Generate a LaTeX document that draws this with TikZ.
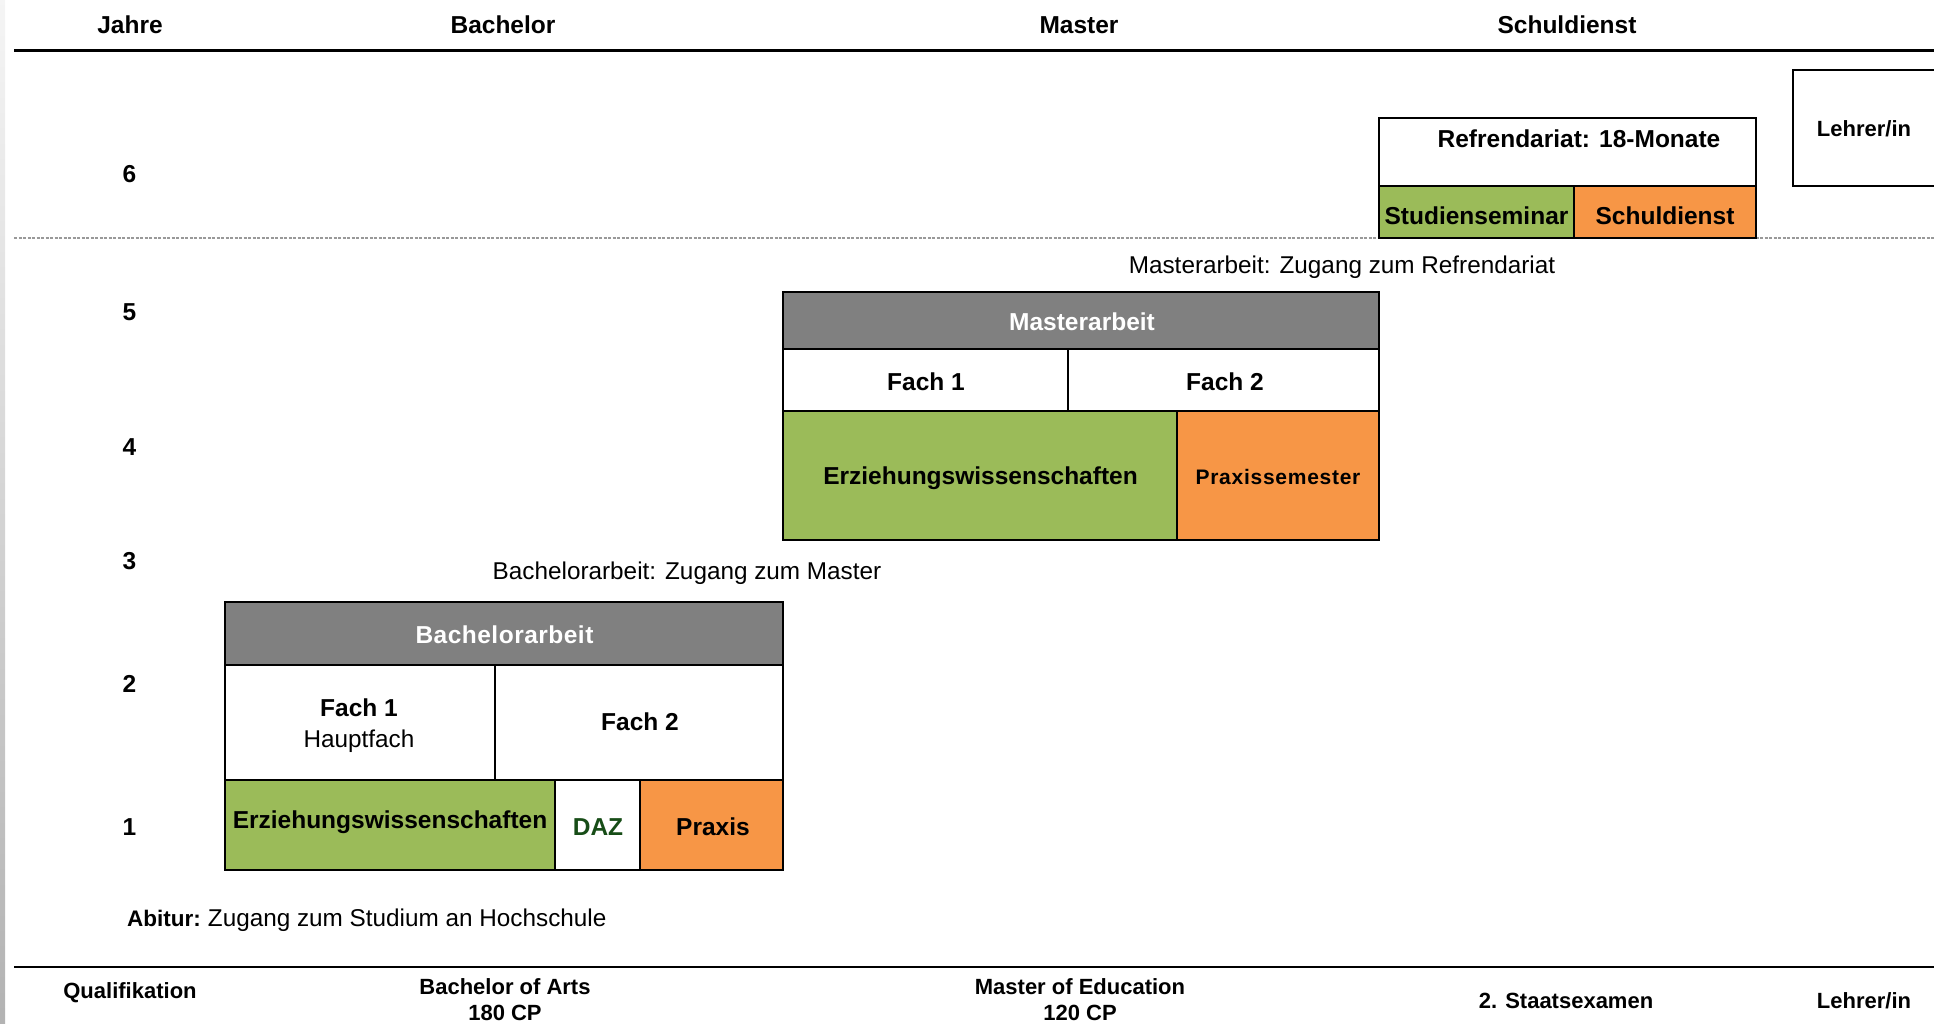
\documentclass[tikz,border=0pt]{standalone}
\usepackage{fontspec}
\setmainfont{Liberation Sans}
\definecolor{olivegreen}{HTML}{9BBB59}
\definecolor{excelorange}{HTML}{F79646}
\definecolor{headgray}{HTML}{808080}
\definecolor{dazgreen}{HTML}{174D17}
\begin{document}
\begin{tikzpicture}[x=1pt,y=-1pt,
  cell/.style={draw=black, line width=2pt},
  rule/.style={draw=black, line width=2.6pt},
  txt/.style={inner sep=0pt, yshift=-2.2pt, font=\fontsize{24.3}{28}\selectfont},
  btxt/.style={inner sep=0pt, yshift=-2.2pt, font=\bfseries\fontsize{24.5}{28}\selectfont},
  stxt/.style={inner sep=0pt, yshift=-2.2pt, font=\bfseries\fontsize{22}{26}\selectfont},
]
\useasboundingbox (0,0) rectangle (1934,1023);
% thin shaded strip along the left edge
\shade[top color=gray!8, bottom color=gray!60] (0,0) rectangle (5,1023);

% column headings
\node[btxt] (hJahre) at (130,23) {Jahre};
\node[btxt] (hBachelor) at (503,23) {Bachelor};
\node[btxt] (hMaster) at (1079,23) {Master};
\node[btxt] (hSchul) at (1567,23) {Schuldienst};
\draw[rule] (14,50.6) -- (1934,50.6);

% year scale
\node[btxt] (y6) at (129.5,171.4) {6};
\node[btxt] (y5) at (129.5,309.6) {5};
\node[btxt] (y4) at (129.5,445) {4};
\node[btxt] (y3) at (129.5,558.7) {3};
\node[btxt] (y2) at (129.5,682) {2};
\node[btxt] (y1) at (129.5,825) {1};

% separator between study and school service
\draw[gray!80, line width=1.5pt, dash pattern=on 3pt off 1.5pt] (14,238) -- (1934,238);

% Referendariat block
\draw[cell, fill=white] (1379,118.4) rectangle (1756,186.2);
\draw[cell, fill=olivegreen] (1379,186.2) rectangle (1574,238);
\draw[cell, fill=excelorange] (1574,186.2) rectangle (1756,238);
\node[btxt] (refr) at (1579,137) {Refrendariat: 18-Monate};
\node[btxt] (studsem) at (1476.5,213.4) {Studienseminar};
\node[btxt] (schuld) at (1665,213.4) {Schuldienst};

% teacher box, running off the right edge
\draw[cell] (1940,70.3) -- (1793,70.3) -- (1793,186.2) -- (1940,186.2);
\node[stxt] (lehrer) at (1864,127) {Lehrer/in};

% Master block
\node[txt] (mnote) at (1342,265) {Masterarbeit: Zugang zum Refrendariat};
\draw[cell, fill=headgray] (783,292.3) rectangle (1379,349);
\draw[cell, fill=white] (783,349) rectangle (1068,410.7);
\draw[cell, fill=white] (1068,349) rectangle (1379,410.7);
\draw[cell, fill=olivegreen] (783,410.7) rectangle (1176.6,540.2);
\draw[cell, fill=excelorange] (1176.6,410.7) rectangle (1379,540.2);
\node[btxt, text=white] (marb) at (1082,319.5) {Masterarbeit};
\node[btxt] (mf1) at (926,380) {Fach 1};
\node[btxt] (mf2) at (1225,380) {Fach 2};
\node[btxt] (mezw) at (980.5,476) {Erziehungswissenschaften};
\node[stxt, font=\bfseries\fontsize{21}{25}\selectfont] (mprax) at (1278,475) {\addfontfeature{LetterSpace=3.5}Praxissemester};

% Bachelor block
\node[txt] (bnote) at (687,571) {Bachelorarbeit: Zugang zum Master};
\draw[cell, fill=headgray] (224.5,602) rectangle (783,664.8);
\draw[cell, fill=white] (224.5,664.8) rectangle (494.6,779.5);
\draw[cell, fill=white] (494.6,664.8) rectangle (783,779.5);
\draw[cell, fill=olivegreen] (224.5,779.5) rectangle (555,869.5);
\draw[cell, fill=white] (555,779.5) rectangle (640,869.5);
\draw[cell, fill=excelorange] (640,779.5) rectangle (783,869.5);
\node[btxt, text=white] (barb) at (504.5,633) {\addfontfeature{LetterSpace=2}Bachelorarbeit};
\node[btxt] (bf1) at (359,705.5) {Fach 1};
\node[txt] (bhaupt) at (359,739) {Hauptfach};
\node[btxt] (bf2) at (640,720) {Fach 2};
\node[btxt] (bezw) at (390,820) {Erziehungswissenschaften};
\node[btxt, text=dazgreen] (bdaz) at (598,825) {DAZ};
\node[btxt] (bprax) at (713,825) {Praxis};

% entry requirement
\node[txt, anchor=west] (abitur) at (127,917.6) {{\bfseries\fontsize{22.5}{26}\selectfont Abitur:}\hspace{-2pt} Zugang zum Studium an Hochschule};

% qualifications
\draw[rule] (14,967) -- (1934,967);
\node[stxt] (qual) at (130,990) {Qualifikation};
\node[stxt] (qba) at (505,984) {Bachelor of Arts};
\node[stxt] (qbacp) at (505,1011) {180 CP};
\node[stxt] (qme) at (1080,984) {Master of Education};
\node[stxt] (qmecp) at (1080,1011) {120 CP};
\node[stxt] (qstaat) at (1566,999) {2. Staatsexamen};
\node[stxt] (qlehrer) at (1864,999) {Lehrer/in};
\end{tikzpicture}
\end{document}
